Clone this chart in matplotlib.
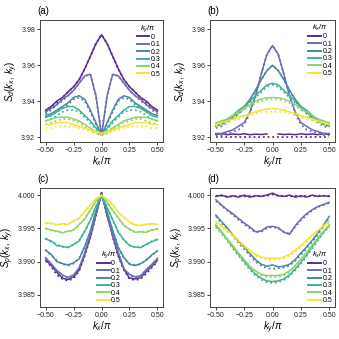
#python3
import numpy as np
import matplotlib
matplotlib.use('Agg')
import matplotlib.pyplot as plt

plt.rcParams['font.family'] = ['Liberation Sans', 'DejaVu Sans']
plt.rcParams['mathtext.fontset'] = 'custom'
plt.rcParams['mathtext.rm'] = 'Liberation Sans'
plt.rcParams['mathtext.it'] = 'Liberation Sans:italic'

#momentum grid (k/pi)
k = [-0.5, -0.45, -0.4, -0.35, -0.3, -0.25, -0.2, -0.15, -0.1, -0.05, 0.0,
     0.05, 0.1, 0.15, 0.2, 0.25, 0.3, 0.35, 0.4, 0.45, 0.5]
labels = ['0', '0.1', '0.2', '0.3', '0.4', '0.5']
colors = ['#5a2d8a', '#6a6cb4', '#4a86a6', '#3fb398', '#8fd36b', '#f3e43a']

#---------------- panel (a): S_d vs kx, curves for ky ----------------
a_line = [
    [3.935,3.937,3.940,3.942,3.945,3.948,3.952,3.958,3.965,3.972,3.977,3.972,3.965,3.958,3.952,3.948,3.945,3.942,3.940,3.937,3.935],
    [3.934,3.936,3.938,3.941,3.943,3.946,3.950,3.954,3.955,3.943,3.921,3.943,3.955,3.954,3.950,3.946,3.943,3.941,3.938,3.936,3.934],
    [3.932,3.933,3.935,3.937,3.939,3.942,3.943,3.941,3.935,3.928,3.921,3.928,3.935,3.941,3.943,3.942,3.939,3.937,3.935,3.933,3.932],
    [3.931,3.932,3.934,3.936,3.937,3.937,3.935,3.932,3.929,3.925,3.922,3.925,3.929,3.932,3.935,3.937,3.937,3.936,3.934,3.932,3.931],
    [3.929,3.930,3.931,3.931,3.931,3.930,3.929,3.927,3.925,3.923,3.922,3.923,3.925,3.927,3.929,3.930,3.931,3.931,3.931,3.930,3.929],
    [3.927,3.927,3.928,3.928,3.928,3.927,3.926,3.925,3.924,3.923,3.922,3.923,3.924,3.925,3.926,3.927,3.928,3.928,3.928,3.927,3.927],
]
a_dots = [
    [3.934,3.937,3.939,3.942,3.945,3.948,3.952,3.958,3.965,3.972,3.977,3.972,3.965,3.958,3.952,3.948,3.945,3.942,3.939,3.937,3.934],
    [3.933,3.935,3.938,3.940,3.943,3.946,3.950,3.954,3.955,3.943,3.921,3.943,3.955,3.954,3.950,3.946,3.943,3.940,3.938,3.935,3.933],
    [3.931,3.932,3.934,3.936,3.938,3.941,3.942,3.940,3.934,3.927,3.921,3.927,3.934,3.940,3.942,3.941,3.938,3.936,3.934,3.932,3.931],
    [3.929,3.930,3.932,3.934,3.935,3.935,3.934,3.931,3.928,3.924,3.921,3.924,3.928,3.931,3.934,3.935,3.935,3.934,3.932,3.930,3.929],
    [3.927,3.928,3.929,3.930,3.930,3.929,3.928,3.926,3.924,3.922,3.921,3.922,3.924,3.926,3.928,3.929,3.930,3.930,3.929,3.928,3.927],
    [3.925,3.925,3.926,3.926,3.926,3.926,3.925,3.924,3.923,3.922,3.921,3.922,3.923,3.924,3.925,3.926,3.926,3.926,3.926,3.925,3.925],
]

#---------------- panel (b): S_d vs ky, curves for kx ----------------
b_line = [
    [3.9215,3.9218,3.9213,3.9217,3.9214,3.9218,3.9213,3.9216,3.9214,3.9217,np.nan,3.9217,3.9214,3.9216,3.9213,3.9218,3.9214,3.9217,3.9213,3.9218,3.9215],
    [3.922,3.922,3.923,3.924,3.926,3.928,3.934,3.943,3.955,3.966,3.971,3.966,3.955,3.943,3.934,3.928,3.926,3.924,3.923,3.922,3.922],
    [3.926,3.927,3.929,3.931,3.934,3.937,3.941,3.946,3.952,3.957,3.960,3.957,3.952,3.946,3.941,3.937,3.934,3.931,3.929,3.927,3.926],
    [3.927,3.928,3.930,3.932,3.935,3.937,3.940,3.943,3.946,3.949,3.950,3.949,3.946,3.943,3.940,3.937,3.935,3.932,3.930,3.928,3.927],
    [3.928,3.929,3.930,3.932,3.934,3.936,3.938,3.940,3.9412,3.9418,3.942,3.9418,3.9412,3.940,3.938,3.936,3.934,3.932,3.930,3.929,3.928],
    [3.927,3.928,3.929,3.930,3.931,3.932,3.933,3.934,3.935,3.9355,3.936,3.9355,3.935,3.934,3.933,3.932,3.931,3.930,3.929,3.928,3.927],
]
b_dots = [
    [3.920,3.920,3.920,3.920,3.920,3.920,3.920,3.920,3.920,3.920,3.920,3.920,3.920,3.920,3.920,3.920,3.920,3.920,3.920,3.920,3.920],
    [3.921,3.921,3.922,3.923,3.924,3.927,3.933,3.943,3.955,3.966,3.971,3.966,3.955,3.943,3.933,3.927,3.924,3.923,3.922,3.921,3.921],
    [3.925,3.926,3.928,3.930,3.933,3.936,3.940,3.946,3.952,3.957,3.960,3.957,3.952,3.946,3.940,3.936,3.933,3.930,3.928,3.926,3.925],
    [3.926,3.927,3.929,3.931,3.934,3.936,3.939,3.942,3.945,3.948,3.949,3.948,3.945,3.942,3.939,3.936,3.934,3.931,3.929,3.927,3.926],
    [3.927,3.928,3.929,3.931,3.933,3.935,3.937,3.939,3.940,3.941,3.941,3.941,3.940,3.939,3.937,3.935,3.933,3.931,3.929,3.928,3.927],
    [3.926,3.927,3.928,3.929,3.930,3.931,3.932,3.933,3.934,3.934,3.934,3.934,3.934,3.933,3.932,3.931,3.930,3.929,3.928,3.927,3.926],
]

#---------------- panel (c): S_p vs kx, curves for ky ----------------
c_line = [
    [3.9903,3.9894,3.9884,3.9875,3.9873,3.9877,3.9887,3.9911,3.9937,3.9971,4.0004,3.9969,3.9939,3.9909,3.9889,3.9875,3.9874,3.9876,3.9885,3.9893,3.9902],
    [3.9906,3.9897,3.9887,3.9880,3.9876,3.9880,3.9891,3.9913,3.9941,3.9972,4.0002,3.9972,3.9940,3.9914,3.9889,3.9881,3.9877,3.9879,3.9888,3.9896,3.9905],
    [3.9917,3.9911,3.9900,3.9897,3.9895,3.9898,3.9904,3.9923,3.9946,3.9976,4.0000,3.9974,3.9947,3.9921,3.9906,3.9896,3.9894,3.9897,3.9902,3.9910,3.9916],
    [3.9934,3.9931,3.9924,3.9923,3.9921,3.9926,3.9931,3.9946,3.9962,3.9983,4.0000,3.9981,3.9963,3.9944,3.9933,3.9924,3.9922,3.9921,3.9926,3.9930,3.9933],
    [3.9950,3.9947,3.9946,3.9943,3.9946,3.9947,3.9956,3.9964,3.9978,3.9991,4.0000,3.9989,3.9977,3.9966,3.9954,3.9949,3.9944,3.9945,3.9944,3.9948,3.9949],
    [3.9958,3.9958,3.9955,3.9957,3.9956,3.9961,3.9965,3.9976,3.9985,3.9995,3.9999,3.9994,3.9986,3.9974,3.9967,3.9959,3.9955,3.9954,3.9956,3.9957,3.9956],
]
c_dots = [
    [3.9901,3.9893,3.9880,3.9874,3.9871,3.9875,3.9886,3.9909,3.9936,3.9970,4.0003,3.9970,3.9937,3.9908,3.9887,3.9874,3.9872,3.9874,3.9882,3.9891,3.9900],
    [3.9904,3.9895,3.9884,3.9878,3.9875,3.9878,3.9889,3.9911,3.9940,3.9971,4.0001,3.9971,3.9939,3.9912,3.9888,3.9879,3.9876,3.9877,3.9886,3.9894,3.9903],
    [3.9918,3.9909,3.9902,3.9896,3.9894,3.9897,3.9905,3.9922,3.9945,3.9975,4.0000,3.9975,3.9946,3.9922,3.9905,3.9897,3.9895,3.9896,3.9903,3.9909,3.9917],
    [3.9935,3.9930,3.9926,3.9922,3.9922,3.9925,3.9932,3.9945,3.9963,3.9982,4.0000,3.9982,3.9962,3.9945,3.9932,3.9925,3.9921,3.9922,3.9925,3.9931,3.9934],
    [3.9949,3.9948,3.9945,3.9944,3.9945,3.9948,3.9955,3.9965,3.9977,3.9990,4.0000,3.9990,3.9977,3.9965,3.9955,3.9948,3.9945,3.9944,3.9945,3.9947,3.9950],
    [3.9957,3.9957,3.9956,3.9956,3.9957,3.9960,3.9966,3.9975,3.9985,3.9994,4.0000,3.9994,3.9985,3.9975,3.9966,3.9960,3.9956,3.9955,3.9956,3.9956,3.9957],
]

#---------------- panel (d): S_p vs ky, curves for kx ----------------
d_line = [
    [3.9998,4.0000,3.9997,3.9999,3.9997,4.0000,3.9997,3.9999,3.9998,4.0000,4.0003,3.9999,3.9998,4.0000,3.9997,3.9999,3.9997,4.0000,3.9998,3.9999,3.9998],
    [3.9993,3.9985,3.9978,3.9972,3.9965,3.9958,3.9952,3.9945,3.9946,3.9952,3.9953,3.9951,3.9944,3.9941,3.9954,3.9964,3.9972,3.9978,3.9983,3.9986,3.9989],
    [3.9970,3.9960,3.9951,3.9940,3.9931,3.9922,3.9912,3.9903,3.9896,3.9893,3.9895,3.9892,3.9893,3.9896,3.9903,3.9913,3.9922,3.9932,3.9943,3.9955,3.9968],
    [3.9955,3.9945,3.9934,3.9922,3.9911,3.9900,3.9890,3.9881,3.9875,3.9871,3.9870,3.9871,3.9874,3.9880,3.9889,3.9899,3.9910,3.9922,3.9934,3.9945,3.9955],
    [3.9953,3.9944,3.9934,3.9924,3.9913,3.9903,3.9893,3.9886,3.9881,3.9879,3.9879,3.9879,3.9881,3.9886,3.9894,3.9904,3.9914,3.9925,3.9936,3.9946,3.9955],
    [3.9960,3.9954,3.9947,3.9940,3.9932,3.9924,3.9917,3.9911,3.9907,3.9905,3.9905,3.9905,3.9907,3.9911,3.9917,3.9924,3.9932,3.9940,3.9947,3.9954,3.9960],
]
d_dots = [
    [3.9999,3.9999,3.9998,3.9998,3.9999,3.9998,3.9999,3.9998,3.9999,3.9999,4.0001,3.9999,3.9999,3.9998,3.9999,3.9998,3.9999,3.9998,3.9999,3.9999,3.9999],
    [3.9991,3.9984,3.9977,3.9970,3.9963,3.9956,3.9950,3.9944,3.9945,3.9950,3.9952,3.9950,3.9945,3.9942,3.9952,3.9962,3.9970,3.9977,3.9982,3.9985,3.9988],
    [3.9968,3.9958,3.9948,3.9938,3.9928,3.9919,3.9909,3.9900,3.9894,3.9890,3.9889,3.9890,3.9891,3.9894,3.9901,3.9910,3.9920,3.9930,3.9941,3.9953,3.9966],
    [3.9953,3.9943,3.9932,3.9920,3.9909,3.9898,3.9888,3.9879,3.9873,3.9869,3.9868,3.9869,3.9872,3.9878,3.9887,3.9897,3.9908,3.9920,3.9932,3.9943,3.9953],
    [3.9951,3.9942,3.9932,3.9922,3.9911,3.9901,3.9891,3.9884,3.9879,3.9877,3.9877,3.9877,3.9879,3.9884,3.9892,3.9902,3.9912,3.9923,3.9934,3.9944,3.9953],
    [3.9958,3.9952,3.9945,3.9938,3.9930,3.9922,3.9915,3.9909,3.9905,3.9903,3.9903,3.9903,3.9905,3.9909,3.9915,3.9922,3.9930,3.9938,3.9945,3.9952,3.9958],
]

fig = plt.figure(figsize=(3.39, 3.39), dpi=100)

#axes positions [left, bottom, width, height] in figure fractions
ax_a = fig.add_axes([0.118, 0.581, 0.363, 0.360])
ax_b = fig.add_axes([0.620, 0.581, 0.368, 0.360])
ax_c = fig.add_axes([0.118, 0.095, 0.363, 0.351])
ax_d = fig.add_axes([0.620, 0.095, 0.368, 0.351])

panels = [
    (ax_a, a_line, a_dots, '(a)', r'$k_x/\pi$', r'$S_d(k_x,\,k_y)$'),
    (ax_b, b_line, b_dots, '(b)', r'$k_y/\pi$', r'$S_d(k_x,\,k_y)$'),
    (ax_c, c_line, c_dots, '(c)', r'$k_x/\pi$', r'$S_p(k_x,\,k_y)$'),
    (ax_d, d_line, d_dots, '(d)', r'$k_y/\pi$', r'$S_p(k_x,\,k_y)$'),
]

for ax, lines, dots, tag, xlab, ylab in panels:
    for ii in range(6):
        ax.plot(k, dots[ii], color=colors[ii], lw=1.3, ls=(0, (1, 1.6)))
        ax.plot(k, lines[ii], color=colors[ii], lw=1.1, label=labels[ii])
    ax.set_xlim(-0.55, 0.55)
    ax.set_xticks([-0.5, -0.25, 0, 0.25, 0.5])
    ax.set_xticklabels(['\u22120.50', '\u22120.25', '0.00', '0.25', '0.50'])
    ax.tick_params(labelsize=5, length=2, width=0.6, pad=1.5, colors='#222222')
    for sp in ax.spines.values():
        sp.set_linewidth(0.7)
        sp.set_color('#444444')
    ax.set_xlabel(xlab, fontsize=7, labelpad=0.5)
    ax.set_ylabel(ylab, fontsize=7, labelpad=1)
    ax.text(-0.02, 1.03, tag, transform=ax.transAxes, fontsize=7, ha='left', va='bottom')

for ax in [ax_a, ax_b]:
    ax.set_ylim(3.9172, 3.9852)
    ax.set_yticks([3.92, 3.94, 3.96, 3.98])
    ax.set_yticklabels(['3.92', '3.94', '3.96', '3.98'])
for ax in [ax_c, ax_d]:
    ax.set_ylim(3.9832, 4.0011)
    ax.set_yticks([3.985, 3.990, 3.995, 4.000])
    ax.set_yticklabels(['3.985', '3.990', '3.995', '4.000'])

leg_kw = dict(fontsize=5, title_fontsize=5.5, frameon=False, handlelength=1.8,
              handletextpad=0.2, labelspacing=0.05, borderpad=0.2, borderaxespad=0.2)
legs = [
    ax_a.legend(loc='upper right', title=r'$k_y/\pi$', **leg_kw),
    ax_b.legend(loc='upper right', title=r'$k_x/\pi$', **leg_kw),
    ax_c.legend(loc='lower center', bbox_to_anchor=(0.56, 0.0), title=r'$k_y/\pi$', **leg_kw),
    ax_d.legend(loc='lower right', title=r'$k_x/\pi$', **leg_kw),
]
for leg in legs:
    for hh in leg.get_lines():
        hh.set_linewidth(1.4)

fig.savefig('out.png', dpi=100)
